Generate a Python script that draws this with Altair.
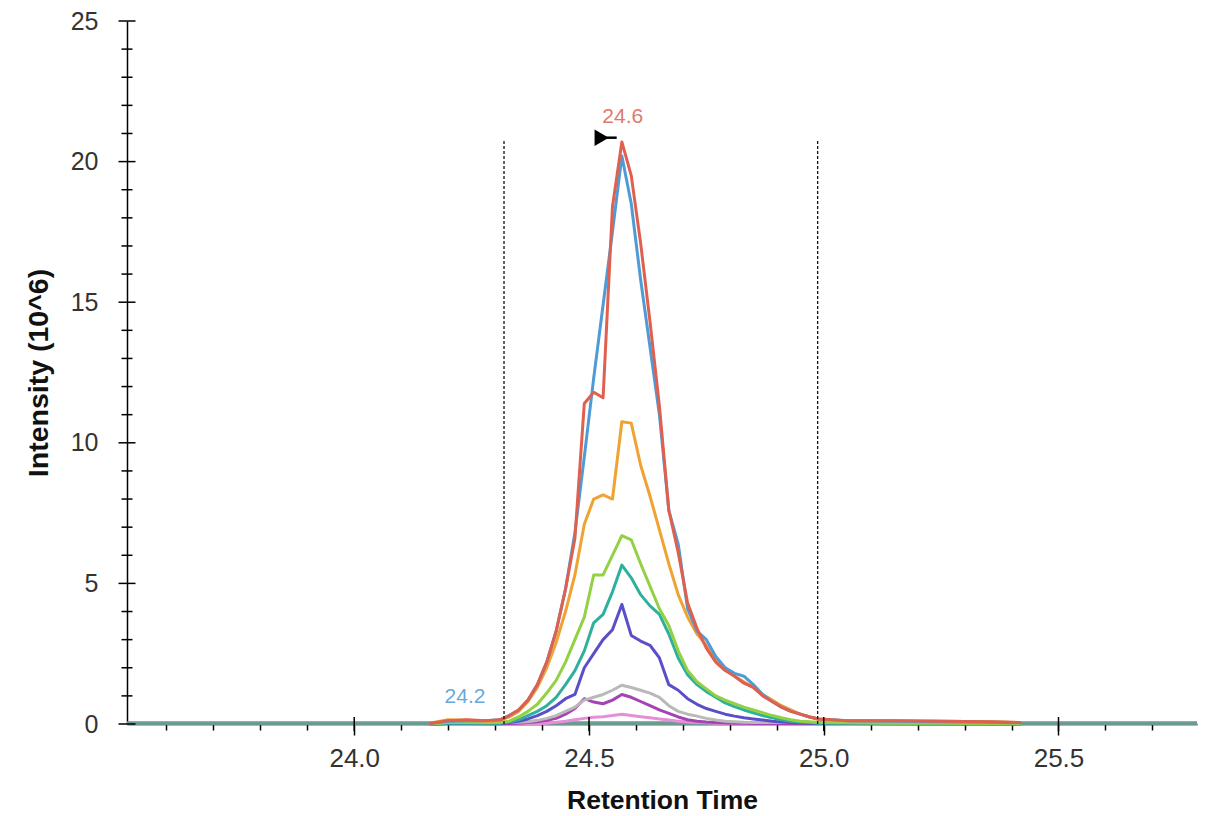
import altair as alt
import pandas as pd

# ---- data ----
pre_t = [24.16, 24.20, 24.24, 24.28]
peak_t = [24.31, 24.33, 24.35, 24.37, 24.39, 24.41, 24.43, 24.45, 24.47, 24.49,
          24.51, 24.53, 24.55, 24.57, 24.59, 24.61, 24.63, 24.65, 24.67, 24.69,
          24.71, 24.73, 24.75, 24.77, 24.79, 24.81, 24.83, 24.85, 24.87, 24.89,
          24.91, 24.93, 24.95, 24.97, 24.99]
post_t = [25.05, 25.15, 25.25, 25.35, 25.42]
times = pre_t + peak_t + post_t

pink = [0, 0.01, 0.01, 0.01,
        0.0, 0.0, 0.01, 0.01, 0.02, 0.03, 0.06, 0.10, 0.15, 0.20,
        0.24, 0.26, 0.30, 0.35, 0.30, 0.26, 0.22, 0.18, 0.14, 0.10,
        0.07, 0.05, 0.04, 0.03, 0.03, 0.02, 0.02, 0.02, 0.01, 0.01,
        0.01, 0.01, 0.01, 0.01, 0.01,
        0.01, 0.01, 0.01, 0.01, 0]
purple = [0, 0.02, 0.02, 0.01,
          0.01, 0.02, 0.03, 0.05, 0.08, 0.13, 0.20, 0.35, 0.55, 0.90,
          0.78, 0.72, 0.85, 1.05, 0.95, 0.80, 0.65, 0.50, 0.38, 0.25,
          0.15, 0.10, 0.07, 0.05, 0.04, 0.03, 0.03, 0.02, 0.02, 0.02,
          0.02, 0.02, 0.02, 0.02, 0.02,
          0.02, 0.01, 0.01, 0.01, 0.01]
gray = [0.02, 0.10, 0.10, 0.08,
        0.05, 0.05, 0.06, 0.08, 0.13, 0.20, 0.30, 0.45, 0.60, 0.85,
        0.95, 1.05, 1.20, 1.38, 1.30, 1.20, 1.10, 0.95, 0.65, 0.45,
        0.35, 0.28, 0.20, 0.14, 0.10, 0.08, 0.06, 0.05, 0.05, 0.05,
        0.05, 0.05, 0.05, 0.05, 0.05,
        0.08, 0.10, 0.10, 0.08, 0.05]
indigo = [0, 0.02, 0.02, 0.02,
          0.02, 0.05, 0.10, 0.18, 0.30, 0.45, 0.65, 0.90, 1.05, 2.00,
          2.50, 3.00, 3.35, 4.25, 3.15, 2.95, 2.80, 2.35, 1.40, 1.20,
          0.90, 0.70, 0.55, 0.45, 0.35, 0.28, 0.22, 0.18, 0.14, 0.10,
          0.07, 0.05, 0.04, 0.03, 0.02,
          0.02, 0.02, 0.01, 0.01, 0.01]
teal = [0, 0.03, 0.03, 0.03,
        0.03, 0.08, 0.15, 0.30, 0.45, 0.65, 0.95, 1.40, 1.90, 2.60,
        3.60, 3.90, 4.70, 5.65, 5.20, 4.60, 4.20, 3.90, 3.20, 2.35,
        1.75, 1.40, 1.15, 0.95, 0.75, 0.62, 0.50, 0.40, 0.30, 0.22,
        0.15, 0.10, 0.07, 0.05, 0.03,
        0.03, 0.02, 0.02, 0.02, 0.01]
green = [0, 0.05, 0.05, 0.04,
         0.05, 0.10, 0.25, 0.45, 0.70, 1.10, 1.55, 2.20, 3.00, 3.80,
         5.30, 5.30, 6.00, 6.70, 6.55, 5.70, 4.90, 4.10, 3.50, 2.60,
         1.90, 1.50, 1.25, 1.00, 0.85, 0.72, 0.60, 0.50, 0.40, 0.30,
         0.22, 0.15, 0.10, 0.08, 0.05,
         0.04, 0.03, 0.03, 0.02, 0.02]
orange = [0.03, 0.15, 0.13, 0.10,
          0.12, 0.25, 0.45, 0.80, 1.30, 2.00, 2.90, 4.00, 5.30, 7.10,
          8.00, 8.15, 8.00, 10.75, 10.70, 9.20, 8.10, 6.90, 5.70, 4.60,
          3.80, 3.20, 2.80, 2.30, 2.00, 1.70, 1.50, 1.30, 1.05, 0.85,
          0.65, 0.50, 0.35, 0.25, 0.15,
          0.12, 0.12, 0.10, 0.08, 0.05]
blue = [0.02, 0.10, 0.12, 0.12,
        0.15, 0.30, 0.50, 0.85, 1.40, 2.20, 3.30, 4.80, 6.80, 9.50,
        12.30, 14.90, 17.50, 20.20, 18.50, 15.80, 13.40, 11.00, 7.60, 6.40,
        4.10, 3.30, 3.00, 2.40, 2.00, 1.80, 1.70, 1.40, 1.05, 0.80,
        0.60, 0.45, 0.35, 0.25, 0.18,
        0.12, 0.10, 0.08, 0.06, 0.04]
red = [0.02, 0.12, 0.15, 0.12,
       0.15, 0.30, 0.50, 0.85, 1.40, 2.20, 3.30, 4.80, 6.60, 11.40,
       11.80, 11.60, 18.40, 20.70, 19.50, 17.10, 14.30, 11.30, 7.60, 6.10,
       4.30, 3.40, 2.70, 2.20, 1.90, 1.70, 1.45, 1.30, 1.00, 0.80,
       0.60, 0.45, 0.35, 0.25, 0.18,
       0.12, 0.12, 0.10, 0.08, 0.05]

base_t = [23.516, 25.795]
base_v = [0.03, 0.03]

series_names = ["pink", "purple", "gray", "indigo", "teal", "green", "orange", "blue", "red"]
series_vals = [pink, purple, gray, indigo, teal, green, orange, blue, red]
series_colors = ["#e58fd6", "#a444b4", "#b9b9b9", "#5b4fc9", "#2fb09c", "#93d144",
                 "#f0a234", "#4f9bd6", "#e0604f"]

bound_t = [24.319, 24.987]
bound_top = [20.8, 20.8]

peak_label_t = [24.572]
peak_label_v = [21.6]
peak_label_txt = ["24.6"]
start_label_t = [24.236]
start_label_v = [0.95]
start_label_txt = ["24.2"]

marker_t = [24.527]
marker_v = [20.85]
marker_tail_t = [24.537]
marker_tail_t2 = [24.559]

x_ticks = [23.6, 23.7, 23.8, 23.9, 24.0, 24.1, 24.2, 24.3, 24.4, 24.5, 24.6, 24.7,
           24.8, 24.9, 25.0, 25.1, 25.2, 25.3, 25.4, 25.5, 25.6, 25.7]
x_major = [24.0, 24.5, 25.0, 25.5]
y_minor = [1, 2, 3, 4, 6, 7, 8, 9, 11, 12, 13, 14, 16, 17, 18, 19, 21, 22, 23, 24]
y_major = [0, 5, 10, 15, 20, 25]

# ---- chart ----
W, H = 1070, 703
X0, X1 = 23.516, 25.795
FONT = "Liberation Sans"
xs = alt.Scale(domain=[X0, X1], nice=False, zero=False)
ys = alt.Scale(domain=[0, 25], nice=False)

major_x = "abs(datum.value*2 - round(datum.value*2)) < 0.001"
x_axis = alt.Axis(
    values=x_ticks,
    labelExpr=f"{major_x} ? format(datum.value, '.1f') : ''",
    tickSize={"condition": {"test": major_x, "value": 11}, "value": 6},
    title="Retention Time", grid=False, labelFlush=False, labelOverlap=False,
    domainColor="#000", tickColor="#000", tickWidth=1.5, domainWidth=1.5,
    labelFont=FONT, labelFontSize=26, labelColor="#333", labelPadding=10,
    titleFont=FONT, titleFontSize=26.5, titleFontWeight="bold", titleColor="#111",
    titlePadding=16,
)
y_axis = alt.Axis(
    values=y_major, ticks=False,
    title="Intensity (10^6)", grid=False, labelOverlap=False,
    domainColor="#000", domainWidth=1.5,
    labelFont=FONT, labelFontSize=25, labelColor="#333", labelPadding=29,
    titleFont=FONT, titleFontSize=28.5, titleFontWeight="bold", titleColor="#111",
    titlePadding=17,
)

X = lambda f="t:Q": alt.X(f, scale=xs, axis=x_axis)
Y = lambda f="v:Q": alt.Y(f, scale=ys, axis=y_axis)

layers = []
df_base = pd.DataFrame({"t": base_t, "v": base_v})
layers.append(
    alt.Chart(df_base).mark_line(color="#6a9a90", strokeWidth=4).encode(x=X(), y=Y())
)
for name, vals, col in zip(series_names, series_vals, series_colors):
    d = pd.DataFrame({"t": times, "v": vals})
    layers.append(
        alt.Chart(d).mark_line(color=col, strokeWidth=3, strokeJoin="round").encode(x=X(), y=Y())
    )

# crossing tick marks on the y axis and the inner half of major x ticks
df_ymin = pd.DataFrame({"t": [X0] * len(y_minor), "v": y_minor})
df_ymaj = pd.DataFrame({"t": [X0] * len(y_major), "v": y_major})
df_xmaj = pd.DataFrame({"t": x_major, "v": [0] * len(x_major)})
ytick_minor = alt.Chart(df_ymin).mark_tick(orient="horizontal", size=11, thickness=1.5,
                                           color="#000", opacity=1).encode(x=X(), y=Y())
ytick_major = alt.Chart(df_ymaj).mark_tick(orient="horizontal", size=17, thickness=1.5,
                                           color="#000", opacity=1).encode(x=X(), y=Y())
xtick_major = alt.Chart(df_xmaj).mark_tick(orient="vertical", size=14, thickness=1.5,
                                           color="#000", opacity=1).encode(x=X(), y=Y())

df_b = pd.DataFrame({"t": bound_t, "v": [0, 0], "top": bound_top})
bounds = alt.Chart(df_b).mark_rule(color="#111", strokeWidth=1.3, strokeDash=[3, 2]).encode(
    x=X(), y=Y(), y2="top:Q")

df_pl = pd.DataFrame({"t": peak_label_t, "v": peak_label_v, "txt": peak_label_txt})
peak_lbl = alt.Chart(df_pl).mark_text(font=FONT, fontSize=21, color="#e07a68").encode(
    x=X(), y=Y(), text="txt:N")
df_sl = pd.DataFrame({"t": start_label_t, "v": start_label_v, "txt": start_label_txt})
start_lbl = alt.Chart(df_sl).mark_text(font=FONT, fontSize=21, color="#6aa8da").encode(
    x=X(), y=Y(), text="txt:N")

df_m = pd.DataFrame({"t": marker_t, "v": marker_v, "t1": marker_tail_t, "t2": marker_tail_t2})
marker = alt.Chart(df_m).mark_point(shape="triangle-right", filled=True, color="#000",
                                    size=270, opacity=1).encode(x=X(), y=Y())
tail = alt.Chart(df_m).mark_rule(color="#000", strokeWidth=2.5).encode(
    x=X("t1:Q"), x2="t2:Q", y=Y())

chart = alt.layer(*layers, ytick_minor, ytick_major, xtick_major, bounds,
                  peak_lbl, start_lbl, tail, marker).properties(
    width=W, height=H,
    background="white",
    autosize=alt.AutoSizeParams(type="none"),
    padding={"left": 119, "top": 13, "right": 10, "bottom": 90},
).configure_view(stroke=None)

chart.save("out.html", embed_options={"renderer": "svg", "actions": False})
